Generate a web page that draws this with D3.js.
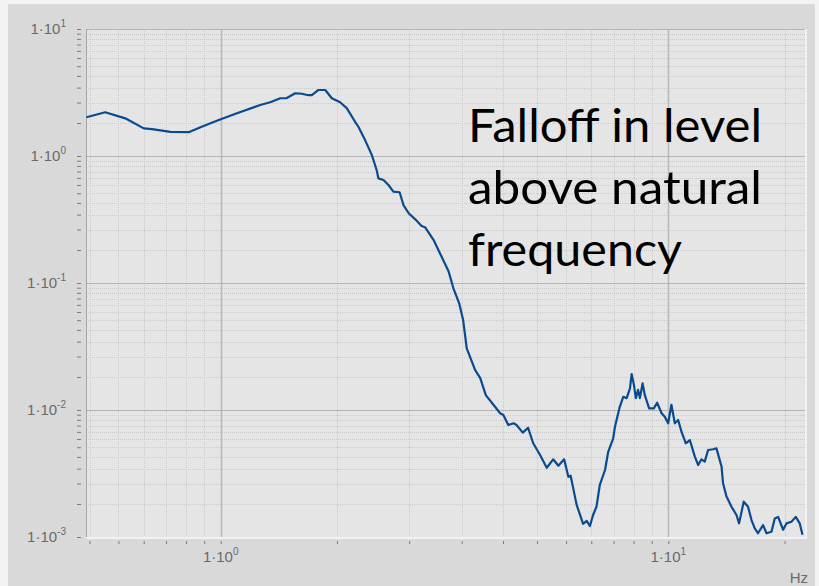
<!DOCTYPE html>
<html>
<head>
<meta charset="utf-8">
<script src="https://cdn.jsdelivr.net/npm/d3@7"></script>
<style>
body{margin:0;background:#f3f3f3;}
svg{display:block;font-family:"Liberation Sans",Arial,sans-serif;}
</style>
</head>
<body>
<script>
// frequency response
const freq = [0.501,0.552,0.612,0.673,0.702,0.772,0.848,0.915,1.0,1.087,
  1.225,1.29,1.358,1.405,1.467,1.518,1.57,1.598,1.653,1.712,
  1.771,1.848,1.912,1.996,2.03,2.10,2.175,2.23,2.25,2.31,
  2.37,2.43,2.51,2.56,2.63,2.72,2.81,2.86,2.99,3.09,
  3.23,3.31,3.41,3.48,3.545,3.70,3.80,3.91,4.10,4.21,
  4.28,4.39,4.51,4.58,4.73,4.86,4.99,5.17,5.35,5.53,
  5.68,5.85,5.98,6.05,6.24,6.45,6.57,6.68,6.79,6.91,
  7.03,7.22,7.34,7.53,7.60,7.79,7.93,8.07,8.21,8.28,
  8.38,8.46,8.56,8.64,8.76,8.86,9.06,9.28,9.44,9.66,
  9.82,9.99,10.16,10.34,10.52,10.70,10.94,11.17,11.46,11.66,
  11.86,12.06,12.27,12.59,12.81,13.15,13.25,13.49,13.84,14.20,
  14.39,14.74,15.07,15.34,15.60,15.86,16.28,16.57,17.00,17.29,
  17.59,18.05,18.36,18.84,19.26,19.66,19.94];
const level = [2.02,2.21,1.98,1.65,1.63,1.55,1.54,1.72,1.95,2.17,
  2.52,2.65,2.85,2.86,3.12,3.09,3.01,3.02,3.31,3.31,
  2.85,2.65,2.38,1.86,1.70,1.34,1.02,0.776,0.667,0.647,
  0.591,0.524,0.518,0.411,0.354,0.317,0.281,0.275,0.218,0.171,
  0.123,0.0908,0.0692,0.0511,0.0306,0.0207,0.0178,0.0131,0.0106,0.00942,
  0.00913,0.00762,0.00786,0.00762,0.00663,0.00725,0.00547,0.00442,0.00351,0.00409,
  0.00364,0.00409,0.00298,0.00304,0.00179,0.00127,0.00134,0.00122,0.00149,0.00173,
  0.00257,0.00337,0.00469,0.00599,0.00739,0.0106,0.0127,0.0124,0.0148,0.0192,
  0.0157,0.0124,0.0144,0.0124,0.0162,0.0131,0.0103,0.0103,0.0114,0.00942,
  0.00886,0.00786,0.0110,0.00786,0.00834,0.00675,0.00547,0.0058,0.00429,0.00369,
  0.00409,0.00392,0.00484,0.00491,0.00499,0.00358,0.00265,0.00208,0.00173,0.00149,
  0.00128,0.00190,0.00173,0.00136,0.00117,0.00107,0.00124,0.00107,0.00110,0.00140,
  0.00144,0.00114,0.00128,0.00132,0.00144,0.00128,0.00104];

const xDecades = [0.1, 1, 10];          // decade starts for minor grid
const xLabelTicks = [1, 10];
const yDecades = [0.001, 0.01, 0.1, 1];
const yLabelTicks = [0.001, 0.01, 0.1, 1, 10];
const subdivisions = 11;                // the grid splits each decade in 11 equal steps
const note = ["Falloff in level", "above natural", "frequency"];
const unit = "Hz";

const W = 819, H = 586;
const plot = {left: 86, right: 805, top: 29, bottom: 537};

const svg = d3.select('body').append('svg')
  .attr('width', W)
  .attr('height', H);

// outer gray panel
svg.append('rect').attr('x', 8).attr('y', 4).attr('width', 807).attr('height', H - 4)
  .attr('fill', '#d9d9d9');

const x = d3.scaleLog().domain([0.5, 20.2]).range([plot.left, plot.right]);
const y = d3.scaleLog().domain([0.001, 10]).range([plot.bottom, plot.top]);

function minorTicks(decades, domain) {
  let out = [];
  decades.forEach(function(d){
    for (let j = 1; j < subdivisions; j++) {
      let v = d * (1 + 9 * j / subdivisions);
      if (v > domain[0] && v < domain[1]) out.push(v);
    }
  });
  return out;
}
const xMinor = minorTicks(xDecades, x.domain());
const yMinor = minorTicks(yDecades, y.domain());

// plot background
svg.append('rect')
  .attr('x', plot.left).attr('y', plot.top)
  .attr('width', plot.right - plot.left).attr('height', plot.bottom - plot.top)
  .attr('fill', '#e5e5e5');

// minor grid (dotted)
const grid = svg.append('g');
grid.selectAll('.vmin').data(xMinor).enter().append('line')
  .attr('x1', d => Math.round(x(d)) + 0.5).attr('x2', d => Math.round(x(d)) + 0.5)
  .attr('y1', plot.top).attr('y2', plot.bottom)
  .attr('stroke', '#cbcbcb').attr('stroke-dasharray', '1,1');
grid.selectAll('.hmin').data(yMinor).enter().append('line')
  .attr('y1', d => Math.round(y(d)) + 0.5).attr('y2', d => Math.round(y(d)) + 0.5)
  .attr('x1', plot.left).attr('x2', plot.right)
  .attr('stroke', '#cbcbcb').attr('stroke-dasharray', '1,1');

// major grid
grid.selectAll('.vmaj').data(xLabelTicks).enter().append('line')
  .attr('x1', d => Math.round(x(d)) + 0.5).attr('x2', d => Math.round(x(d)) + 0.5)
  .attr('y1', plot.top).attr('y2', plot.bottom)
  .attr('stroke', '#b9b9b9').attr('stroke-width', 1.5);
grid.selectAll('.hmaj').data(yLabelTicks).enter().append('line')
  .attr('y1', d => Math.round(y(d)) + 0.5).attr('y2', d => Math.round(y(d)) + 0.5)
  .attr('x1', plot.left).attr('x2', plot.right)
  .attr('stroke', '#b4b4b4').attr('stroke-width', 1.2);

// frame: dark left, light bottom/right
svg.append('line').attr('x1', plot.left + 0.5).attr('x2', plot.left + 0.5)
  .attr('y1', plot.top).attr('y2', plot.bottom).attr('stroke', '#a5a5a5');
svg.append('line').attr('x1', plot.left).attr('x2', plot.right + 1)
  .attr('y1', plot.bottom + 1).attr('y2', plot.bottom + 1).attr('stroke', '#f2f2f2').attr('stroke-width', 2);
svg.append('line').attr('x1', plot.right + 1).attr('x2', plot.right + 1)
  .attr('y1', plot.top).attr('y2', plot.bottom + 2).attr('stroke', '#f2f2f2').attr('stroke-width', 2);

// tick dashes via axes
const yAxis = d3.axisLeft(y).tickValues(yMinor.concat(yLabelTicks)).tickSize(4).tickFormat('');
svg.append('g').attr('transform', 'translate(81,0)').call(yAxis)
  .call(g => g.select('.domain').remove())
  .call(g => g.selectAll('line').attr('stroke', '#7a7a7a'));
const xAxis = d3.axisBottom(x).tickValues(xMinor.concat(xLabelTicks)).tickSize(3).tickFormat('');
svg.append('g').attr('transform', 'translate(0,541)').call(xAxis)
  .call(g => g.select('.domain').remove())
  .call(g => g.selectAll('line').attr('stroke', '#7a7a7a'));

// labels 1·10^n
function powLabel(sel) {
  sel.append('tspan').text('1\u00b710');
  sel.append('tspan').attr('font-size', 10).attr('dy', -7)
    .text(d => Math.round(Math.log10(d)));
}
svg.append('g').selectAll('text').data(yLabelTicks).enter().append('text')
  .attr('x', 66).attr('y', d => y(d) + 5)
  .attr('text-anchor', 'end').attr('font-size', 15).attr('fill', '#6a6a6a')
  .call(powLabel);
svg.append('g').selectAll('text').data(xLabelTicks).enter().append('text')
  .attr('x', d => x(d)).attr('y', 562)
  .attr('text-anchor', 'middle').attr('font-size', 15).attr('fill', '#6a6a6a')
  .call(powLabel);
svg.append('text').attr('x', 808).attr('y', 583).attr('text-anchor', 'end')
  .attr('font-size', 15).attr('fill', '#6a6a6a').text(unit);

// the curve
const pts = freq.map((f, i) => ({f: f, v: level[i]}));
const line = d3.line().x(d => x(d.f)).y(d => y(d.v));
svg.append('path').datum(pts)
  .attr('d', line)
  .attr('fill', 'none')
  .attr('stroke', '#0a4a8e')
  .attr('stroke-width', 2.2)
  .attr('stroke-linejoin', 'round');

// annotation
const noteWidths = [294, 294, 214];
svg.append('g').selectAll('text').data(note).enter().append('text')
  .attr('x', 468).attr('y', (d, i) => 142 + i * 62)
  .attr('font-family', 'Lato, "Open Sans", sans-serif')
  .attr('font-size', 47).attr('fill', '#000')
  .attr('textLength', (d, i) => noteWidths[i]).attr('lengthAdjust', 'spacingAndGlyphs')
  .text(d => d);
</script>
</body>
</html>
